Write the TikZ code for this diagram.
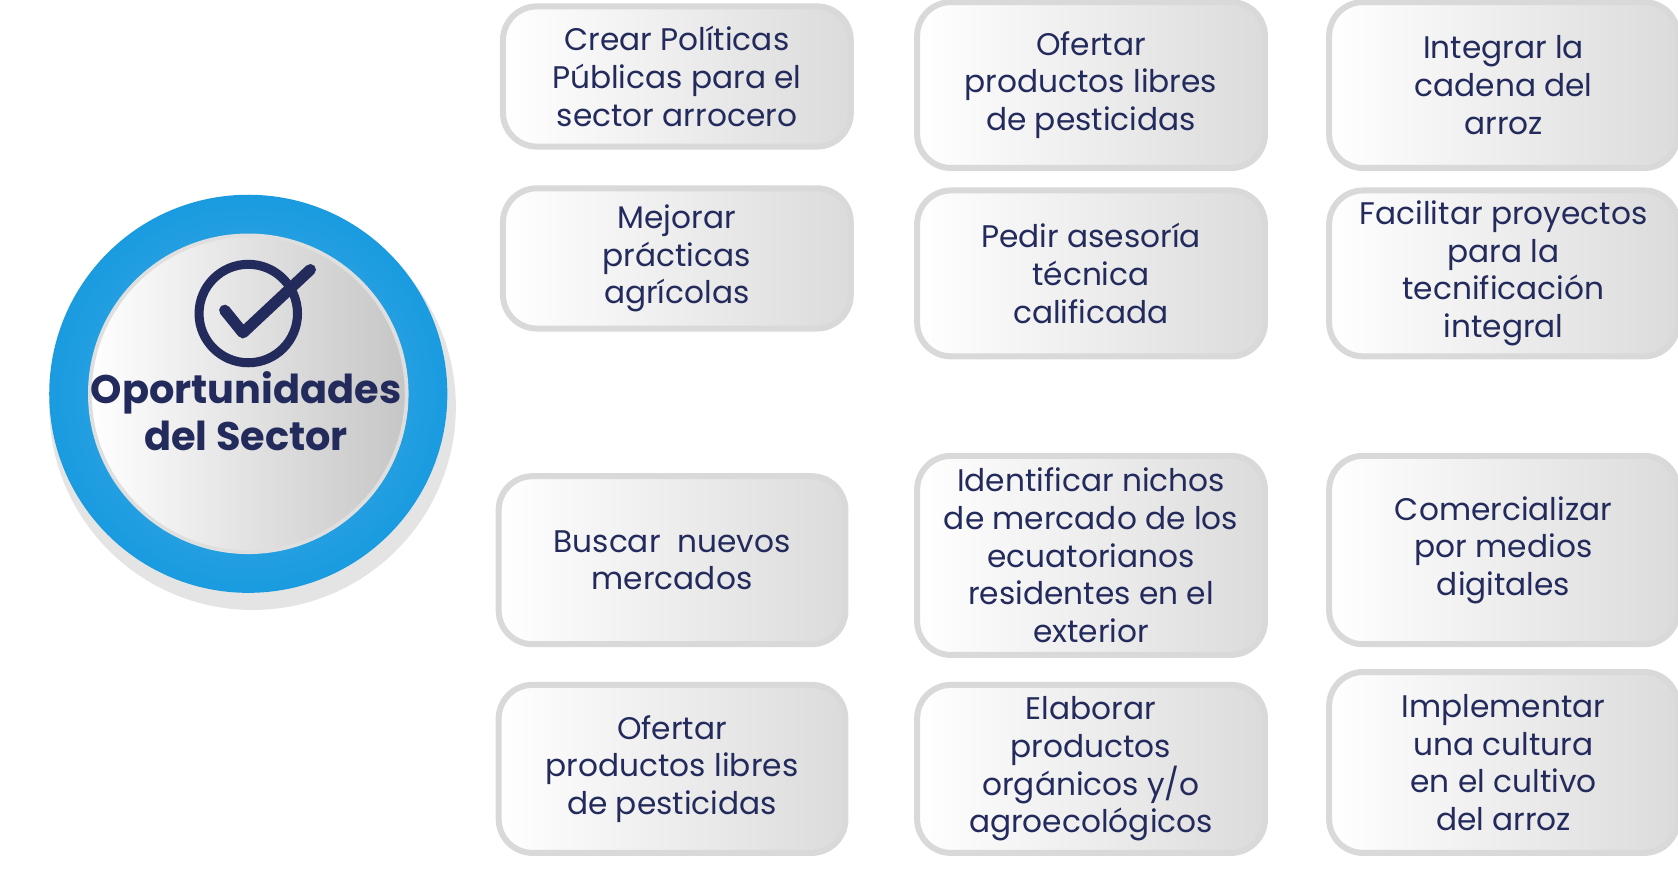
\documentclass[tikz,border=0pt]{standalone}
\usepackage{fontspec}
\setmainfont{Poppins}
\definecolor{navy}{HTML}{232A5C}
\definecolor{ringblue}{HTML}{1A9BE0}
\tikzset{
 box/.style={draw=gray!30, line width=1.6pt, rounded corners=9pt, left color=white, right color=gray!28,
   text=navy, align=center, inner sep=1pt, font=\fontsize{8.3}{10}\selectfont},
}
\begin{document}
\begin{tikzpicture}
\useasboundingbox (0,0) rectangle (15.68,8.15);
% circle
\fill[gray!60, opacity=0.35] (2.36,4.35) circle (1.9);
\shade[inner color=ringblue!80, outer color=ringblue] (2.32,4.47) circle (1.86);
\node[circle, minimum size=2.96cm, draw=gray!25, line width=1pt, left color=white, right color=gray!45, inner sep=0] (disk) at (2.32,4.47) {};
\node[circle, draw=navy, line width=2.4pt, minimum size=0.92cm, inner sep=0] (icon) at (2.32,5.22) {};
\draw[navy, line width=3pt, line cap=round, line join=round] (2.10,5.25) -- (2.27,5.04) -- (2.90,5.63);
\node[text=navy, align=center, font=\bfseries\fontsize{10.6}{12.4}\selectfont] (title) at (2.30,4.31) {Oportunidades\\del Sector};
% boxes
\node[box, minimum width=3.25cm, minimum height=1.31cm] (a1) at (6.325,7.435) {Crear Políticas\\Públicas para el\\sector arrocero};
\node[box, minimum width=3.25cm, minimum height=1.55cm] (a2) at (10.195,7.355) {Ofertar\\productos libres\\de pesticidas};
\node[box, minimum width=3.26cm, minimum height=1.55cm] (a3) at (14.05,7.355) {Integrar la\\cadena del\\arroz};
\node[box, minimum width=3.25cm, minimum height=1.31cm] (b1) at (6.325,5.735) {Mejorar\\prácticas\\agrícolas};
\node[box, minimum width=3.25cm, minimum height=1.55cm] (b2) at (10.195,5.595) {Pedir asesoría\\técnica\\calificada};
\node[box, minimum width=3.26cm, minimum height=1.55cm] (b3) at (14.05,5.595) {Facilitar proyectos\\para la\\tecnificación\\integral};
\node[box, minimum width=3.24cm, minimum height=1.57cm] (c1) at (6.28,2.915) {Buscar\ \ nuevos\\mercados};
\node[box, minimum width=3.25cm, minimum height=1.86cm] (c2) at (10.195,2.96) {Identificar nichos\\de mercado de los\\ecuatorianos\\residentes en el\\exterior};
\node[box, minimum width=3.26cm, minimum height=1.76cm] (c3) at (14.05,3.01) {Comercializar\\por medios\\digitales};
\node[box, minimum width=3.24cm, minimum height=1.57cm] (d1) at (6.28,0.965) {Ofertar\\productos libres\\de pesticidas};
\node[box, minimum width=3.25cm, minimum height=1.57cm] (d2) at (10.195,0.965) {Elaborar\\productos\\orgánicos y/o\\agroecológicos};
\node[box, minimum width=3.26cm, minimum height=1.69cm] (d3) at (14.05,1.025) {Implementar\\una cultura\\en el cultivo\\del arroz};
\end{tikzpicture}
\end{document}
